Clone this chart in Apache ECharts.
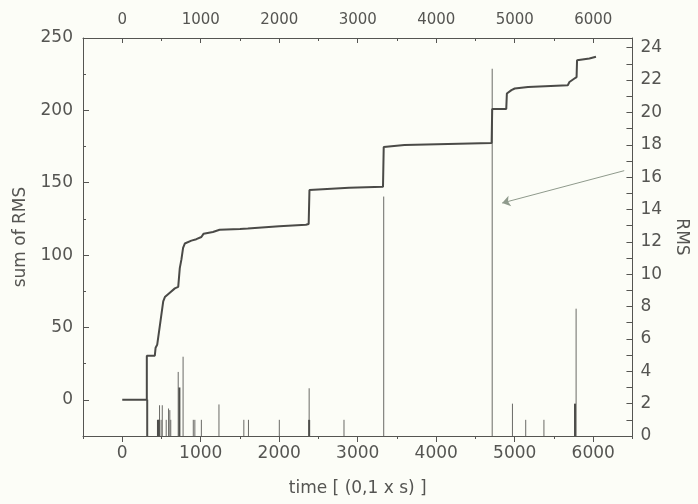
<!DOCTYPE html>
<html>
<head>
<meta charset="utf-8">
<script src="https://cdn.jsdelivr.net/npm/echarts@6/dist/echarts.min.js"></script>
<style>
html,body{margin:0;padding:0;background:#fcfdf7;}
#chart{width:698px;height:504px;}
</style>
</head>
<body>
<div id="chart"></div>
<script>
// ---- data ----
const stepTimes = [0, 313, 313, 415, 425, 445, 481, 522, 543, 606, 670, 713, 733, 754, 775, 797, 881, 944, 1008, 1037, 1155, 1240, 1500, 1600, 2000, 2340, 2375, 2385, 2400, 2890, 3322, 3331, 3350, 3595, 3606, 4706, 4713, 4892, 4900, 4958, 5000, 5169, 5676, 5697, 5761, 5788, 5794, 5951, 6035];
const stepSums  = [0, 0, 30.5, 30.5, 36, 38, 52, 68, 71, 74, 77, 78, 91, 97, 105, 108, 110, 111, 112.5, 114.8, 116, 117.5, 118, 118.3, 120, 121, 121.5, 145, 146, 146.5, 147.3, 174.7, 175.6, 176, 177, 177.5, 201, 201, 211.6, 214, 215.1, 216.2, 217.4, 219.6, 222, 223, 234.6, 235.8, 237];

const spikeTimes  = [475, 495, 510, 560, 590, 606, 618, 713, 775, 905, 925, 1008, 1232, 1549, 1608, 2001, 2381, 2825, 3331, 4713, 4971, 5140, 5372, 5782];
const spikeValues = [1.9, 1.0, 1.9, 1.0, 1.7, 1.6, 1.0, 3.96, 4.9, 1.0, 1.0, 1.0, 1.95, 1.0, 1.0, 1.0, 2.95, 1.0, 14.8, 22.7, 2.0, 1.0, 1.0, 7.87];

const thickSpikeTimes  = [318, 455, 465, 728, 2381, 5768];
const thickSpikeValues = [2.25, 1.0, 1.0, 3.0, 1.0, 2.0];

const timeTicks = [0, 1000, 2000, 3000, 4000, 5000, 6000];
const sumTicks  = [0, 50, 100, 150, 200, 250];
const rmsTicks  = [0, 2, 4, 6, 8, 10, 12, 14, 16, 18, 20, 22, 24];
const rmsMinorTicks = [0,1,2,3,4,5,6,7,8,9,10,11,12,13,14,15,16,17,18,19,20,21,22,23,24];

const arrowFrom = [6395, 16.4];
const arrowTo   = [4840, 14.4];

// ---- chart ----
const zip = (a, b) => a.map((v, i) => [v, b[i]]);
const ink = '#555552';
const font = 'DejaVu Sans';
const lineStyle = {color: ink, width: 1};
const plain = v => String(v);

function spikeRender(width, color) {
  return function (params, api) {
    const t = api.value(0), v = api.value(1);
    const p0 = api.coord([t, 0]);
    const p1 = api.coord([t, v]);
    return {
      type: 'line',
      shape: {x1: p0[0], y1: p0[1], x2: p1[0], y2: p1[1]},
      style: {stroke: color, lineWidth: width}
    };
  };
}

const chart = echarts.init(document.getElementById('chart'), null, {renderer: 'canvas'});
chart.setOption({
  backgroundColor: '#fcfdf7',
  animation: false,
  grid: {left: 83, top: 38, width: 552, height: 398, containLabel: false},
  xAxis: [
    { // bottom main
      type: 'value', position: 'bottom', min: -500, max: 6500,
      name: 'time [ (0,1 x s) ]', nameLocation: 'middle', nameGap: 44,
      nameTextStyle: {fontFamily: font, fontSize: 17, color: ink},
      axisLine: {show: true, onZero: false, lineStyle},
      axisTick: {show: true, customValues: timeTicks, inside: false, length: 6, lineStyle},
      axisLabel: {customValues: timeTicks, formatter: plain, margin: 9, fontFamily: font, fontSize: 17, color: ink},
      splitLine: {show: false}
    },
    { // bottom minor ticks
      type: 'value', position: 'bottom', min: -500, max: 6500, interval: 500,
      axisLine: {show: false, onZero: false}, axisLabel: {show: false}, splitLine: {show: false},
      axisTick: {show: true, inside: false, length: 3, lineStyle}
    },
    { // top main
      type: 'value', position: 'top', min: -500, max: 6500,
      axisLine: {show: true, onZero: false, lineStyle},
      axisTick: {show: true, customValues: timeTicks, inside: true, length: 5, lineStyle},
      axisLabel: {customValues: timeTicks, formatter: plain, margin: 10, fontFamily: font, fontSize: 15, color: ink},
      splitLine: {show: false}
    },
    { // top minor ticks
      type: 'value', position: 'top', min: -500, max: 6500, interval: 500,
      axisLine: {show: false, onZero: false}, axisLabel: {show: false}, splitLine: {show: false},
      axisTick: {show: true, inside: true, length: 3, lineStyle}
    }
  ],
  yAxis: [
    { // left main
      type: 'value', position: 'left', min: -25, max: 250,
      name: 'sum of RMS', nameLocation: 'middle', nameGap: 54,
      nameTextStyle: {fontFamily: font, fontSize: 17, color: ink},
      axisLine: {show: true, onZero: false, lineStyle},
      axisTick: {show: true, customValues: sumTicks, inside: true, length: 6, lineStyle},
      axisLabel: {customValues: sumTicks, formatter: plain, margin: 10, fontFamily: font, fontSize: 17, color: ink},
      splitLine: {show: false}
    },
    { // right
      type: 'value', position: 'right', min: 0, max: 24.6,
      name: 'RMS', nameLocation: 'middle', nameGap: 40, nameRotate: -90,
      nameTextStyle: {fontFamily: font, fontSize: 17, color: ink},
      axisLine: {show: true, onZero: false, lineStyle},
      axisTick: {show: true, customValues: rmsMinorTicks, inside: true, length: 6, lineStyle},
      axisLabel: {customValues: rmsTicks, formatter: plain, margin: 8, fontFamily: font, fontSize: 17, color: ink},
      splitLine: {show: false}
    },
    { // left minor ticks
      type: 'value', position: 'left', min: -25, max: 250, interval: 25,
      axisLine: {show: false, onZero: false}, axisLabel: {show: false}, splitLine: {show: false},
      axisTick: {show: true, inside: true, length: 3, lineStyle}
    }
  ],
  series: [
    {
      type: 'custom', name: 'RMS', xAxisIndex: 0, yAxisIndex: 1,
      renderItem: spikeRender(1, '#6a6a66'),
      data: zip(spikeTimes, spikeValues), clip: true, z: 2
    },
    {
      type: 'custom', name: 'RMS thick', xAxisIndex: 0, yAxisIndex: 1,
      renderItem: spikeRender(2, '#4e4e4b'),
      data: zip(thickSpikeTimes, thickSpikeValues), clip: true, z: 2
    },
    {
      type: 'line', name: 'sum of RMS', xAxisIndex: 0, yAxisIndex: 0,
      data: zip(stepTimes, stepSums), symbol: 'none', z: 3,
      lineStyle: {color: '#4a4a47', width: 2}
    },
    {
      type: 'line', name: 'arrow', xAxisIndex: 0, yAxisIndex: 1, data: [],
      markLine: {
        silent: true, symbol: ['none', 'arrow'], symbolSize: 8,
        label: {show: false},
        lineStyle: {color: '#8f9a8c', width: 1, type: 'solid'},
        data: [[{coord: arrowFrom}, {coord: arrowTo}]]
      }
    }
  ]
});
</script>
</body>
</html>
